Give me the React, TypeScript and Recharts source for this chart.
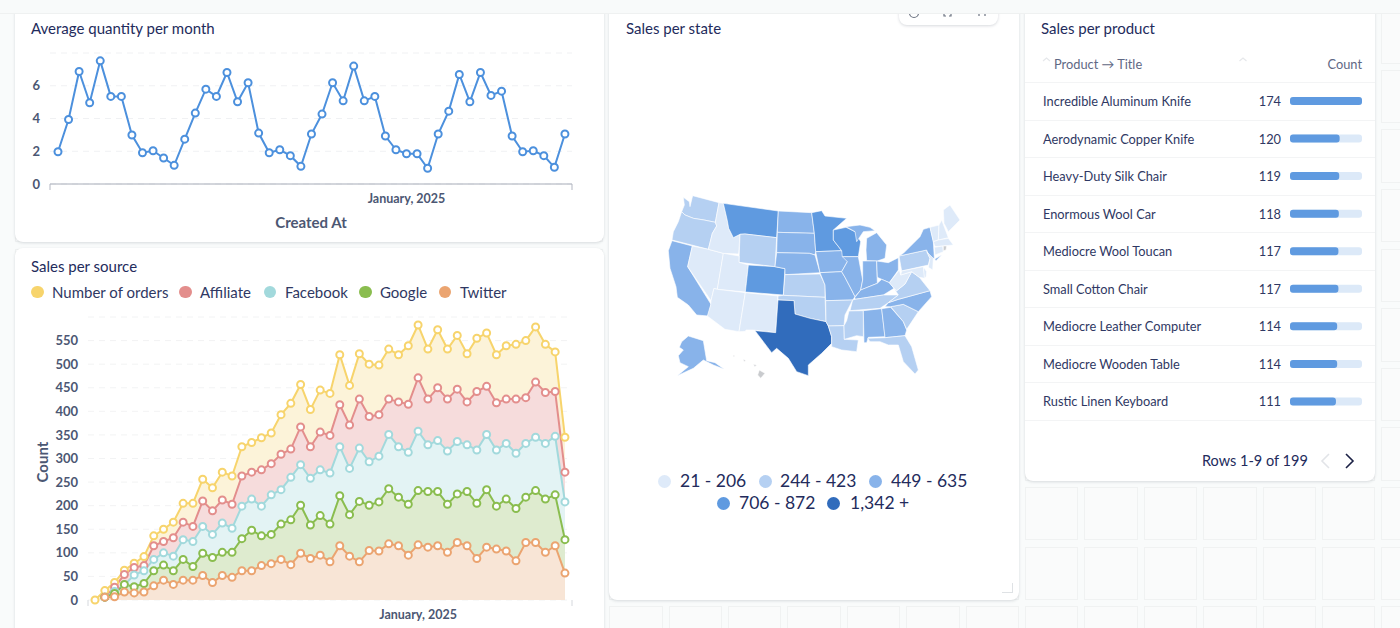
import React from "react";
import {
  LineChart,
  Line,
  AreaChart,
  Area,
  BarChart,
  Bar,
  ScatterChart,
  Scatter,
  XAxis,
  YAxis,
  CartesianGrid,
} from "recharts";

const FONT = "Lato, sans-serif";
const NAVY = "#232b5c";
const SLATE = "#4c5773";

const months = [
  "April, 2022", "May, 2022", "June, 2022", "July, 2022", "August, 2022", "September, 2022", "October, 2022",
  "November, 2022", "December, 2022", "January, 2023", "February, 2023", "March, 2023", "April, 2023", "May, 2023",
  "June, 2023", "July, 2023", "August, 2023", "September, 2023", "October, 2023", "November, 2023", "December, 2023",
  "January, 2024", "February, 2024", "March, 2024", "April, 2024", "May, 2024", "June, 2024", "July, 2024",
  "August, 2024", "September, 2024", "October, 2024", "November, 2024", "December, 2024", "January, 2025",
  "February, 2025", "March, 2025", "April, 2025", "May, 2025", "June, 2025", "July, 2025", "August, 2025",
  "September, 2025", "October, 2025", "November, 2025", "December, 2025", "January, 2026", "February, 2026",
  "March, 2026", "April, 2026",
];

const avgQuantity = [
  1.97, 3.94, 6.87, 4.96, 7.52, 5.35, 5.35, 2.99, 1.91, 2.03, 1.59, 1.14, 2.74, 4.33, 5.79, 5.35, 6.81, 5.02, 6.18,
  3.11, 1.91, 2.09, 1.73, 1.08, 3.05, 4.27, 6.18, 5.08, 7.2, 5.08, 5.35, 2.93, 2.09, 1.85, 1.85, 0.96, 3.05, 4.45,
  6.69, 5.02, 6.81, 5.41, 5.67, 2.93, 1.97, 2.03, 1.73, 1.02, 3.05,
];

const orders = [
  0, 20, 37, 63, 78, 92, 136, 150, 165, 205, 205, 256, 238, 271, 263, 325, 334, 344, 354, 393, 417, 457, 404, 445, 438,
  520, 455, 522, 500, 498, 532, 520, 539, 583, 532, 573, 532, 561, 522, 555, 566, 520, 539, 542, 550, 579, 542, 526, 345,
];
const affiliate = [
  null, 6, 27, 54, 69, 73, 115, 124, 132, 165, 156, 210, 189, 212, 203, 263, 271, 276, 289, 309, 320, 367, 325, 356, 349,
  414, 371, 426, 389, 393, 426, 420, 415, 471, 426, 450, 426, 447, 420, 442, 453, 418, 426, 426, 429, 462, 440, 442, 271,
];
const facebook = [
  null, 6, 18, 32, 53, 62, 86, 100, 93, 128, 124, 156, 139, 163, 152, 199, 214, 199, 223, 234, 260, 287, 258, 276, 269,
  325, 279, 322, 293, 305, 351, 325, 313, 358, 329, 338, 316, 336, 329, 318, 351, 318, 332, 311, 332, 345, 332, 347, 208,
];
const google = [
  null, 6, 14, 33, 28, 35, 62, 74, 62, 86, 71, 99, 90, 101, 101, 130, 148, 136, 139, 161, 170, 201, 159, 179, 161,
  221, 181, 209, 201, 208, 236, 218, 203, 232, 230, 230, 203, 225, 230, 205, 234, 199, 214, 194, 218, 232, 214, 223, 128,
];
const twitter = [
  null, 6, 7, 17, 15, 17, 30, 42, 33, 42, 42, 52, 37, 52, 48, 62, 62, 73, 77, 86, 75, 99, 88, 95, 81,
  115, 93, 81, 105, 104, 119, 115, 95, 117, 112, 115, 101, 122, 115, 88, 112, 108, 104, 83, 122, 122, 101, 115, 57,
];

const sourceSeries = [
  { key: "orders", name: "Number of orders", color: "#f7d46c", fill: "#fcf3d9", dotX: 37.5, textX: 52 },
  { key: "affiliate", name: "Affiliate", color: "#e38e8c", fill: "#f6dcdc", dotX: 185.5, textX: 200 },
  { key: "facebook", name: "Facebook", color: "#a2d9dc", fill: "#e3f3f4", dotX: 270, textX: 285 },
  { key: "google", name: "Google", color: "#8abd4f", fill: "#deebcf", dotX: 365.5, textX: 380 },
  { key: "twitter", name: "Twitter", color: "#eba470", fill: "#f8e5d6", dotX: 445, textX: 460 },
];

const productTitles = [
  "Incredible Aluminum Knife", "Aerodynamic Copper Knife", "Heavy-Duty Silk Chair", "Enormous Wool Car",
  "Mediocre Wool Toucan", "Small Cotton Chair", "Mediocre Leather Computer", "Mediocre Wooden Table",
  "Rustic Linen Keyboard",
];
const productCounts = [174, 120, 119, 118, 117, 117, 114, 114, 111];

const bucketColors = ["#c9cbce", "#deeaf9", "#b5d0f2", "#88b3ea", "#5f9ae0", "#316cbc"];
const bucketLabels = ["21 - 206", "244 - 423", "449 - 635", "706 - 872", "1,342 +"];

const stateBuckets: Record<string, number> = {
  WA: 2, OR: 2, CA: 3, NV: 1, ID: 1, MT: 4, WY: 2, UT: 1, AZ: 1, CO: 4, NM: 1, ND: 3, SD: 3, NE: 3, KS: 2, OK: 2,
  TX: 5, MN: 4, IA: 3, MO: 3, AR: 2, LA: 2, WI: 4, IL: 3, MI: 3, MIU: 3, IN: 3, OH: 3, KY: 3, TN: 2, MS: 2, AL: 3, GA: 3,
  FL: 2, SC: 2, NC: 3, VA: 2, WV: 1, PA: 2, NY: 3, LI: 3, NJ: 1, MD: 1, DE: 1, VT: 1, NH: 1, ME: 1, MA: 1, CT: 1, RI: 0,
  AK: 3, HI: 0, HI2: 0, HI3: 0, HI4: 0,
};

// state outlines on a 1020x600 map plane, neighbours share their border points
const stateOutlines: Record<string, number[][]> = {
  WA: [[130, 22], [148, 35], [150, 50], [158, 17], [237, 38], [226, 97], [192, 90], [160, 85], [135, 75], [125, 65], [133, 45]],
  OR: [[125, 65], [135, 75], [160, 85], [192, 90], [226, 97], [230, 108], [217, 130], [205, 178], [155, 165], [96, 150], [100, 125], [115, 95]],
  CA: [[96, 152], [157, 168], [143, 230], [213, 343], [205, 378], [170, 375], [145, 345], [112, 322], [108, 290], [90, 235], [85, 182]],
  NV: [[157, 168], [205, 178], [250, 190], [232, 298], [222, 295], [213, 332], [143, 230]],
  ID: [[237, 38], [250, 40], [262, 92], [266, 115], [280, 143], [300, 133], [296, 192], [250, 190], [205, 178], [217, 130], [230, 108], [226, 97]],
  MT: [[250, 40], [415, 63], [410, 143], [315, 132], [300, 133], [280, 143], [266, 115], [262, 92]],
  WY: [[300, 133], [315, 132], [410, 143], [405, 230], [297, 217]],
  UT: [[250, 190], [297, 198], [297, 217], [325, 225], [316, 306], [232, 298]],
  CO: [[325, 225], [405, 230], [435, 236], [430, 315], [316, 306]],
  AZ: [[232, 298], [316, 308], [297, 425], [255, 418], [202, 378], [212, 345], [213, 332], [222, 295]],
  NM: [[316, 308], [414, 318], [407, 428], [340, 420], [318, 420], [316, 424], [297, 425]],
  ND: [[415, 63], [515, 68], [523, 130], [412, 127]],
  SD: [[412, 127], [523, 130], [527, 185], [525, 195], [508, 190], [410, 188]],
  NE: [[410, 188], [508, 190], [525, 195], [540, 248], [435, 254], [435, 236], [405, 230]],
  KS: [[435, 254], [540, 252], [555, 285], [555, 322], [430, 316]],
  OK: [[414, 318], [430, 316], [555, 322], [558, 395], [510, 385], [465, 372], [462, 332], [414, 330]],
  TX: [[414, 330], [462, 332], [465, 372], [510, 385], [558, 395], [565, 408], [575, 440], [575, 460], [545, 490], [505, 525], [505, 557], [470, 545], [445, 505], [410, 475], [395, 488], [345, 422], [407, 428]],
  MN: [[515, 68], [545, 62], [555, 78], [620, 85], [580, 120], [580, 150], [605, 182], [527, 185], [523, 130]],
  IA: [[527, 185], [605, 182], [622, 215], [605, 245], [540, 248]],
  MO: [[540, 248], [605, 245], [615, 262], [635, 300], [645, 320], [638, 330], [557, 332], [555, 285]],
  AR: [[557, 332], [638, 330], [615, 375], [612, 407], [565, 408], [558, 395]],
  LA: [[565, 408], [612, 407], [613, 448], [655, 450], [650, 485], [605, 480], [575, 470], [575, 440]],
  WI: [[580, 120], [618, 112], [645, 125], [662, 155], [655, 200], [607, 200], [605, 182], [580, 150]],
  IL: [[607, 200], [655, 200], [668, 270], [662, 300], [645, 320], [635, 300], [615, 262], [605, 245], [622, 215]],
  MIU: [[618, 110], [660, 105], [690, 112], [705, 122], [670, 125], [650, 155], [645, 125]],
  MI: [[680, 145], [710, 128], [740, 165], [735, 205], [712, 213], [680, 212], [678, 180]],
  IN: [[668, 213], [710, 213], [712, 280], [668, 298], [662, 300], [668, 270]],
  OH: [[710, 213], [745, 218], [775, 203], [775, 240], [748, 278], [725, 268], [712, 262]],
  KY: [[645, 322], [662, 300], [712, 280], [725, 268], [748, 278], [762, 295], [730, 315], [645, 328]],
  TN: [[638, 330], [645, 328], [730, 315], [775, 315], [745, 338], [720, 355], [630, 362]],
  MS: [[627, 363], [670, 362], [670, 440], [650, 437], [613, 448], [612, 407], [620, 392]],
  AL: [[670, 362], [725, 356], [735, 440], [685, 442], [680, 458], [672, 458]],
  GA: [[725, 356], [752, 352], [790, 395], [800, 420], [795, 437], [735, 443]],
  FL: [[683, 445], [735, 443], [795, 437], [815, 470], [835, 540], [825, 552], [790, 515], [775, 465], [745, 465], [720, 455], [690, 455]],
  SC: [[752, 350], [790, 343], [835, 365], [800, 418], [790, 395]],
  NC: [[735, 350], [745, 338], [775, 328], [870, 302], [875, 320], [835, 365], [790, 343], [752, 350]],
  VA: [[775, 315], [762, 295], [770, 302], [795, 282], [815, 245], [838, 262], [870, 302], [775, 328], [745, 338]],
  WV: [[748, 278], [778, 240], [782, 255], [815, 245], [795, 282], [770, 302], [762, 295]],
  PA: [[777, 198], [860, 180], [870, 205], [865, 225], [785, 243]],
  NY: [[790, 190], [840, 140], [850, 118], [870, 112], [880, 155], [883, 205], [870, 205], [860, 180], [777, 198]],
  LI: [[884, 207], [905, 195], [888, 212]],
  NJ: [[860, 185], [880, 205], [878, 240], [865, 232], [870, 205]],
  MD: [[785, 243], [850, 230], [855, 265], [838, 262], [815, 245], [782, 255]],
  DE: [[850, 230], [860, 245], [858, 262], [853, 262]],
  VT: [[870, 112], [897, 105], [895, 150], [880, 155]],
  NH: [[897, 105], [905, 90], [925, 143], [895, 150]],
  ME: [[910, 60], [930, 45], [960, 90], [925, 125], [912, 100]],
  MA: [[880, 155], [895, 150], [925, 145], [940, 165], [885, 170]],
  CT: [[883, 172], [908, 168], [910, 185], [885, 195]],
  RI: [[910, 168], [920, 168], [918, 180], [910, 182]],
  AK: [[145, 438], [190, 452], [200, 512], [225, 518], [253, 538], [220, 525], [190, 510], [160, 535], [112, 557], [145, 530], [120, 518], [115, 497], [130, 480], [118, 472], [125, 455]],
  HI: [[358, 540], [375, 550], [362, 565], [353, 555]],
  HI2: [[340, 522], [350, 526], [344, 530]],
  HI3: [[310, 508], [318, 512], [312, 515]],
  HI4: [[279, 495], [285, 497], [281, 500]],
};

const quantityRows = months.map((month, index) => ({ index, month, value: avgQuantity[index] }));
const sourceRows = months.map((month, index) => ({
  index,
  month,
  orders: orders[index],
  affiliate: affiliate[index],
  facebook: facebook[index],
  google: google[index],
  twitter: twitter[index],
}));
const productRows = productTitles.map((title, i) => ({ title, count: productCounts[i] }));
const stateNames = Object.keys(stateOutlines);

const dashCols = [15.2, 74.6, 134, 193.4, 252.8, 312.2, 371.6, 431, 490.4, 549.8, 609.2, 668.6, 728, 787.4, 846.8, 906.2, 965.6, 1025, 1084.4, 1143.8, 1203.2, 1262.6, 1322, 1381.4];
const dashRows = [10.2, 69.8, 129.4, 189, 248.6, 308.2, 367.8, 427.4, 487, 546.6, 606.2];

const dateTick = (labelIndex: number, tickColor: string) => (props: any) => {
  const { x, y, payload } = props;
  if (payload.value === labelIndex) {
    return (
      <text x={x} y={y + 19} textAnchor="middle" fontFamily={FONT} fontSize={12.5} fontWeight={700} fill={SLATE}>
        {months[labelIndex]}
      </text>
    );
  }
  return <line x1={x} x2={x} y1={y} y2={y + 6} stroke={tickColor} />;
};

const Card = ({ x, y, w, h }: { x: number; y: number; w: number; h: number }) => (
  <div
    style={{
      position: "absolute",
      left: x,
      top: y,
      width: w,
      height: h,
      background: "#fff",
      borderRadius: 8,
      boxShadow: "0 1px 3px rgba(60,70,90,0.18)",
    }}
  />
);

const Title = ({ x, y = 19, children }: { x: number; y?: number; children: React.ReactNode }) => (
  <div style={{ position: "absolute", left: x, top: y, fontSize: 15, lineHeight: "18px", color: NAVY, whiteSpace: "nowrap" }}>
    {children}
  </div>
);

const Dot = ({ cx, cy, r, color }: { cx: number; cy: number; r: number; color: string }) => (
  <div style={{ position: "absolute", left: cx - r, top: cy - r, width: r * 2, height: r * 2, borderRadius: "50%", background: color }} />
);

const mapLegend = [
  { dotX: 664.3, textX: 680, y: 481 },
  { dotX: 765, textX: 780, y: 481 },
  { dotX: 875, textX: 891, y: 481 },
  { dotX: 723, textX: 739, y: 503 },
  { dotX: 833.7, textX: 850, y: 503 },
];

export default function App() {
  return (
    <div style={{ position: "fixed", left: 0, top: 0, width: 1400, height: 628, overflow: "hidden", background: "#f9fbfb", fontFamily: FONT }}>
      {dashRows.flatMap((top) =>
        dashCols.map((left) => (
          <div
            key={`${left}-${top}`}
            style={{ position: "absolute", left, top, width: 53.4, height: 53.4, boxSizing: "border-box", border: "1px solid #f0f2f2", background: "#fafbfb" }}
          />
        ))
      )}

      <Card x={14.5} y={4} w={589} h={238} />
      <Card x={14.5} y={248} w={589} h={420} />
      <Card x={609} y={4} w={410} h={596} />
      <Card x={1025} y={4} w={350} h={477} />

      {/* floating card toolbar, clipped by the top bar */}
      <div style={{ position: "absolute", left: 899, top: 0, width: 99, height: 25, background: "#fff", borderRadius: 8, boxShadow: "0 1px 3px rgba(60,70,90,0.2)" }} />
      <svg style={{ position: "absolute", left: 899, top: 10, width: 99, height: 10 }}>
        <path d="M10.5 3 a4.5 4.5 0 0 0 9 0" fill="none" stroke="#6b7280" strokeWidth={1.2} />
        <path d="M45 4 v2 h2 M52 4 v2 h-2" fill="none" stroke="#6b7280" strokeWidth={1.2} />
        <path d="M80 4 v2 M86 4 v2" fill="none" stroke="#6b7280" strokeWidth={1.2} />
      </svg>
      <div style={{ position: "absolute", left: 0, top: 0, width: 1400, height: 14, background: "#f8fafa", borderBottom: "1px solid #eff1f1", boxSizing: "border-box" }} />
      <div style={{ position: "absolute", left: 1002, top: 583, width: 10, height: 9, borderRight: "1.5px solid #dfe2e5", borderBottom: "1.5px solid #dfe2e5" }} />

      <Title x={31}>Average quantity per month</Title>
      <div style={{ position: "absolute", left: 0, top: 40 }}>
        <LineChart width={604} height={200} data={quantityRows} margin={{ top: 13, right: 32, bottom: 0, left: 0 }}>
          <CartesianGrid vertical={false} stroke="#f0f1f3" strokeDasharray="6 5" />
          <XAxis
            type="number"
            dataKey="index"
            domain={[-0.757, 48.67]}
            ticks={[-0.757, 33, 48.67]}
            interval={0}
            height={56}
            stroke="#a7acb8"
            tickLine={false}
            tickSize={0}
            tickMargin={0}
            tick={dateTick(33, "#b3b7c2")}
            label={{ value: "Created At", position: "insideBottom", offset: 12, fontFamily: FONT, fontSize: 15, fontWeight: 700, fill: SLATE }}
          />
          <YAxis
            width={50}
            domain={[0, 8]}
            ticks={[0, 2, 4, 6]}
            axisLine={false}
            tickLine={false}
            tickSize={0}
            tickMargin={10}
            tick={{ fontFamily: FONT, fontSize: 13, fontWeight: 700, fill: SLATE }}
          />
          <Line
            type="linear"
            dataKey="value"
            stroke="#4c90dd"
            strokeWidth={2}
            dot={{ r: 3.5, fill: "#fff", stroke: "#4c90dd", strokeWidth: 2 }}
            activeDot={false}
            isAnimationActive={false}
          />
        </LineChart>
      </div>

      <Title x={31} y={257}>Sales per source</Title>
      {sourceSeries.map((s) => (
        <React.Fragment key={s.key}>
          <Dot cx={s.dotX} cy={291.7} r={6.2} color={s.color} />
          <div style={{ position: "absolute", left: s.textX, top: 283, fontSize: 15, lineHeight: "18px", color: "#2f3863", whiteSpace: "nowrap" }}>{s.name}</div>
        </React.Fragment>
      ))}
      <div style={{ position: "absolute", left: 0, top: 310 }}>
        <AreaChart width={604} height={318} data={sourceRows} margin={{ top: 7, right: 32, bottom: 0, left: 0 }}>
          {sourceSeries.map((s) => (
            <Area
              key={s.key}
              type="linear"
              dataKey={s.key}
              name={s.name}
              stroke={s.color}
              strokeWidth={2}
              fill={s.fill}
              fillOpacity={1}
              dot={{ r: 3.5, fill: "#fff", stroke: s.color, strokeWidth: 2 }}
              activeDot={false}
              isAnimationActive={false}
            />
          ))}
          <CartesianGrid vertical={false} stroke="#eceef0" strokeDasharray="6 5" strokeOpacity={0.7} />
          <XAxis
            type="number"
            dataKey="index"
            domain={[-0.715, 48.72]}
            ticks={[-0.715, 33, 48.72]}
            interval={0}
            height={28}
            axisLine={false}
            tickLine={false}
            tickSize={0}
            tickMargin={0}
            tick={dateTick(33, "#d5d8dd")}
          />
          <YAxis
            width={88}
            domain={[0, 600]}
            ticks={[0, 50, 100, 150, 200, 250, 300, 350, 400, 450, 500, 550]}
            interval={0}
            axisLine={false}
            tickLine={false}
            tickSize={0}
            tickMargin={10}
            tick={{ fontFamily: FONT, fontSize: 13, fontWeight: 700, fill: SLATE }}
            label={() => (
              <text x={48} y={152} transform="rotate(-90 48 152)" textAnchor="middle" fontFamily={FONT} fontSize={15} fontWeight={700} fill={SLATE}>
                Count
              </text>
            )}
          />
        </AreaChart>
      </div>

      <Title x={626}>Sales per state</Title>
      <div style={{ position: "absolute", left: 640, top: 190 }}>
        <ScatterChart width={340} height={200} margin={{ top: 0, right: 0, bottom: 0, left: 0 }}>
          <XAxis type="number" dataKey="x" domain={[0, 1020]} hide />
          <YAxis type="number" dataKey="y" domain={[0, 600]} reversed hide />
          {stateNames.map((name) => (
            <Scatter
              key={name}
              name={name}
              data={stateOutlines[name].map(([x, y]) => ({ x, y }))}
              shape={() => null}
              isAnimationActive={false}
              line={(p: any) => (
                <polygon
                  points={p.points.map((q: any) => `${q.x},${q.y}`).join(" ")}
                  fill={bucketColors[stateBuckets[name]]}
                  stroke="#fff"
                  strokeWidth={0.6}
                />
              )}
            />
          ))}
        </ScatterChart>
      </div>
      {bucketLabels.map((label, i) => (
        <React.Fragment key={label}>
          <Dot cx={mapLegend[i].dotX} cy={mapLegend[i].y} r={6.5} color={bucketColors[i + 1]} />
          <div style={{ position: "absolute", left: mapLegend[i].textX, top: mapLegend[i].y - 11, fontSize: 17.5, lineHeight: "22px", color: NAVY, whiteSpace: "nowrap" }}>{label}</div>
        </React.Fragment>
      ))}

      <Title x={1041}>Sales per product</Title>
      <div style={{ position: "absolute", left: 1054, top: 56, fontSize: 12.8, lineHeight: "16px", color: "#5f6884" }}>Product → Title</div>
      <div style={{ position: "absolute", right: 38, top: 56, fontSize: 12.8, lineHeight: "16px", color: "#5f6884" }}>Count</div>
      <svg style={{ position: "absolute", left: 1040, top: 56, width: 210, height: 8 }}>
        <path d="M3 5 L6.5 2 L10 5 M199.5 5 L203 2 L206.5 5" fill="none" stroke="#e6e8eb" strokeWidth={1.2} />
      </svg>
      {productRows.map((row, i) => (
        <React.Fragment key={row.title}>
          <div style={{ position: "absolute", left: 1025, top: 82 + i * 37.5, width: 350, height: 1, background: "#f3f4f5" }} />
          <div style={{ position: "absolute", left: 1043, top: 93 + i * 37.5, fontSize: 12.8, lineHeight: "16px", color: "#2f3863", whiteSpace: "nowrap" }}>{row.title}</div>
          <div style={{ position: "absolute", right: 119, top: 93 + i * 37.5, fontSize: 12.8, lineHeight: "16px", color: "#2f3863" }}>{row.count}</div>
        </React.Fragment>
      ))}
      <div style={{ position: "absolute", left: 1025, top: 420, width: 350, height: 1, background: "#f3f4f5" }} />
      <div style={{ position: "absolute", left: 1290, top: 82 }}>
        <BarChart width={72} height={338} layout="vertical" data={productRows} margin={{ top: 0, right: 0, bottom: 0, left: 0 }}>
          <XAxis type="number" domain={[0, 174]} hide />
          <YAxis type="category" dataKey="title" hide />
          <Bar dataKey="count" barSize={8} fill="#5f9ae0" radius={3} background={{ fill: "#dce9f8", radius: 3 }} isAnimationActive={false} />
        </BarChart>
      </div>
      <div style={{ position: "absolute", left: 1202, top: 452, fontSize: 14.5, lineHeight: "18px", color: NAVY, whiteSpace: "nowrap" }}>Rows 1-9 of 199</div>
      <svg style={{ position: "absolute", left: 1318, top: 452, width: 40, height: 18 }}>
        <path d="M11 2 L4 9 L11 16" fill="none" stroke="#e2e4e8" strokeWidth={1.6} />
        <path d="M28 2 L35 9 L28 16" fill="none" stroke="#1b2145" strokeWidth={1.6} />
      </svg>
    </div>
  );
}
